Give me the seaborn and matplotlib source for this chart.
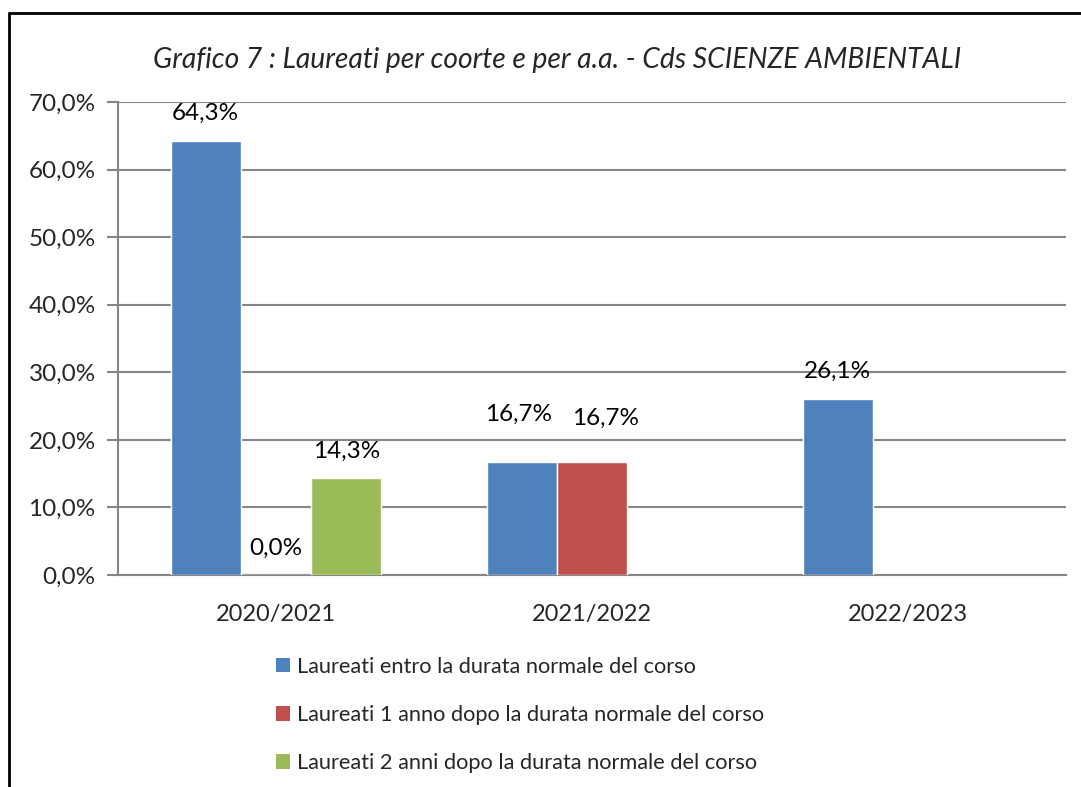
import matplotlib
matplotlib.use("Agg")
import matplotlib.pyplot as plt
import seaborn as sns
import pandas as pd
import numpy as np
from matplotlib.lines import Line2D
from matplotlib.patches import Patch

categories = ["2020/2021", "2021/2022", "2022/2023"]
series_names = [
    "Laureati entro la durata normale del corso",
    "Laureati 1 anno dopo la durata normale del corso",
    "Laureati 2 anni dopo la durata normale del corso",
]
entro = [64.3, 16.7, 26.1]
un_anno = [0.0, 16.7, np.nan]
due_anni = [14.3, np.nan, np.nan]
colors = ["#4F81BD", "#C0504D", "#9BBB59"]
title = "Grafico 7 : Laureati per coorte e per a.a. - Cds SCIENZE AMBIENTALI"
yticks = [0, 10, 20, 30, 40, 50, 60, 70]

sns.set_theme(style="white")
plt.rcParams["font.family"] = ["Lato", "DejaVu Sans"]

rows = []
for name, vals in zip(series_names, [entro, un_anno, due_anni]):
    for c, v in zip(categories, vals):
        rows.append({"Anno": c, "Serie": name, "Valore": v})
df = pd.DataFrame(rows)

fig = plt.figure(figsize=(10.81, 7.87), dpi=100)
ax = fig.add_axes([118 / 1081, 1 - 575 / 787, (1066 - 118) / 1081, (575 - 102) / 787])

sns.barplot(data=df, x="Anno", y="Valore", hue="Serie", order=categories,
            hue_order=series_names, palette=colors, saturation=1, width=0.667,
            dodge=True, edgecolor="white", linewidth=1, errorbar=None, ax=ax,
            legend=False, zorder=3)

ax.set_xlim(-0.5, 2.5)
ax.set_ylim(0, 70)
ax.set_yticks(yticks)
ax.set_yticklabels([f"{t:.1f}%".replace(".", ",") for t in yticks], fontsize=17.5)
ax.yaxis.grid(True, color="#868686", linewidth=1.5, zorder=0)
ax.xaxis.grid(False)
ax.set_xlabel("")
ax.set_ylabel("")
ax.tick_params(axis="x", which="major", length=0, labelsize=17, pad=21)
ax.set_xticks([-0.5, 0.5, 1.5, 2.5], minor=True)
ax.tick_params(axis="x", which="minor", length=8, width=1.5, color="#868686", direction="out")
ax.tick_params(axis="y", length=8, width=1.5, color="#868686", direction="out", left=True, pad=8)
for s in ["top", "right"]:
    ax.spines[s].set_visible(False)
for s in ["left", "bottom"]:
    ax.spines[s].set_color("#868686")
    ax.spines[s].set_linewidth(1.5)

# label offsets (points): Excel nudges the two overlapping 2021/2022 labels apart
label_shift = {(0, 1): (-2, 15), (1, 1): (10, 12)}
for si, cont in enumerate(ax.containers):
    for ci, bar in enumerate(cont):
        h = bar.get_height()
        if np.isnan(h):
            continue
        dx, dy = label_shift.get((si, ci), (0, 0))
        ax.annotate(f"{h:.1f}%".replace(".", ","),
                    (bar.get_x() + bar.get_width() / 2, h),
                    xytext=(dx, 19.5 + dy), textcoords="offset points",
                    ha="center", va="center", fontsize=17.5, color="black")

fig.text(0.5 * (153 + 962) / 1081, 1 - 60 / 787, title, ha="center", va="center",
         fontsize=20.3, style="italic")

handles = [Patch(facecolor=c, edgecolor="none") for c in colors]
leg = fig.legend(handles, series_names, loc="upper left",
                 bbox_to_anchor=(256 / 1081, 1 - 637 / 787), frameon=False,
                 fontsize=15.7, handlelength=0.65, handleheight=0.65, handletextpad=0.35,
                 labelspacing=1.3)

fig.add_artist(Line2D([9 / 1081, 1.0], [1 - 13 / 787, 1 - 13 / 787],
                      transform=fig.transFigure, color="black", linewidth=2))
fig.add_artist(Line2D([9 / 1081, 9 / 1081], [0, 1 - 13 / 787],
                      transform=fig.transFigure, color="black", linewidth=2))

fig.savefig("out.png", dpi=100)
